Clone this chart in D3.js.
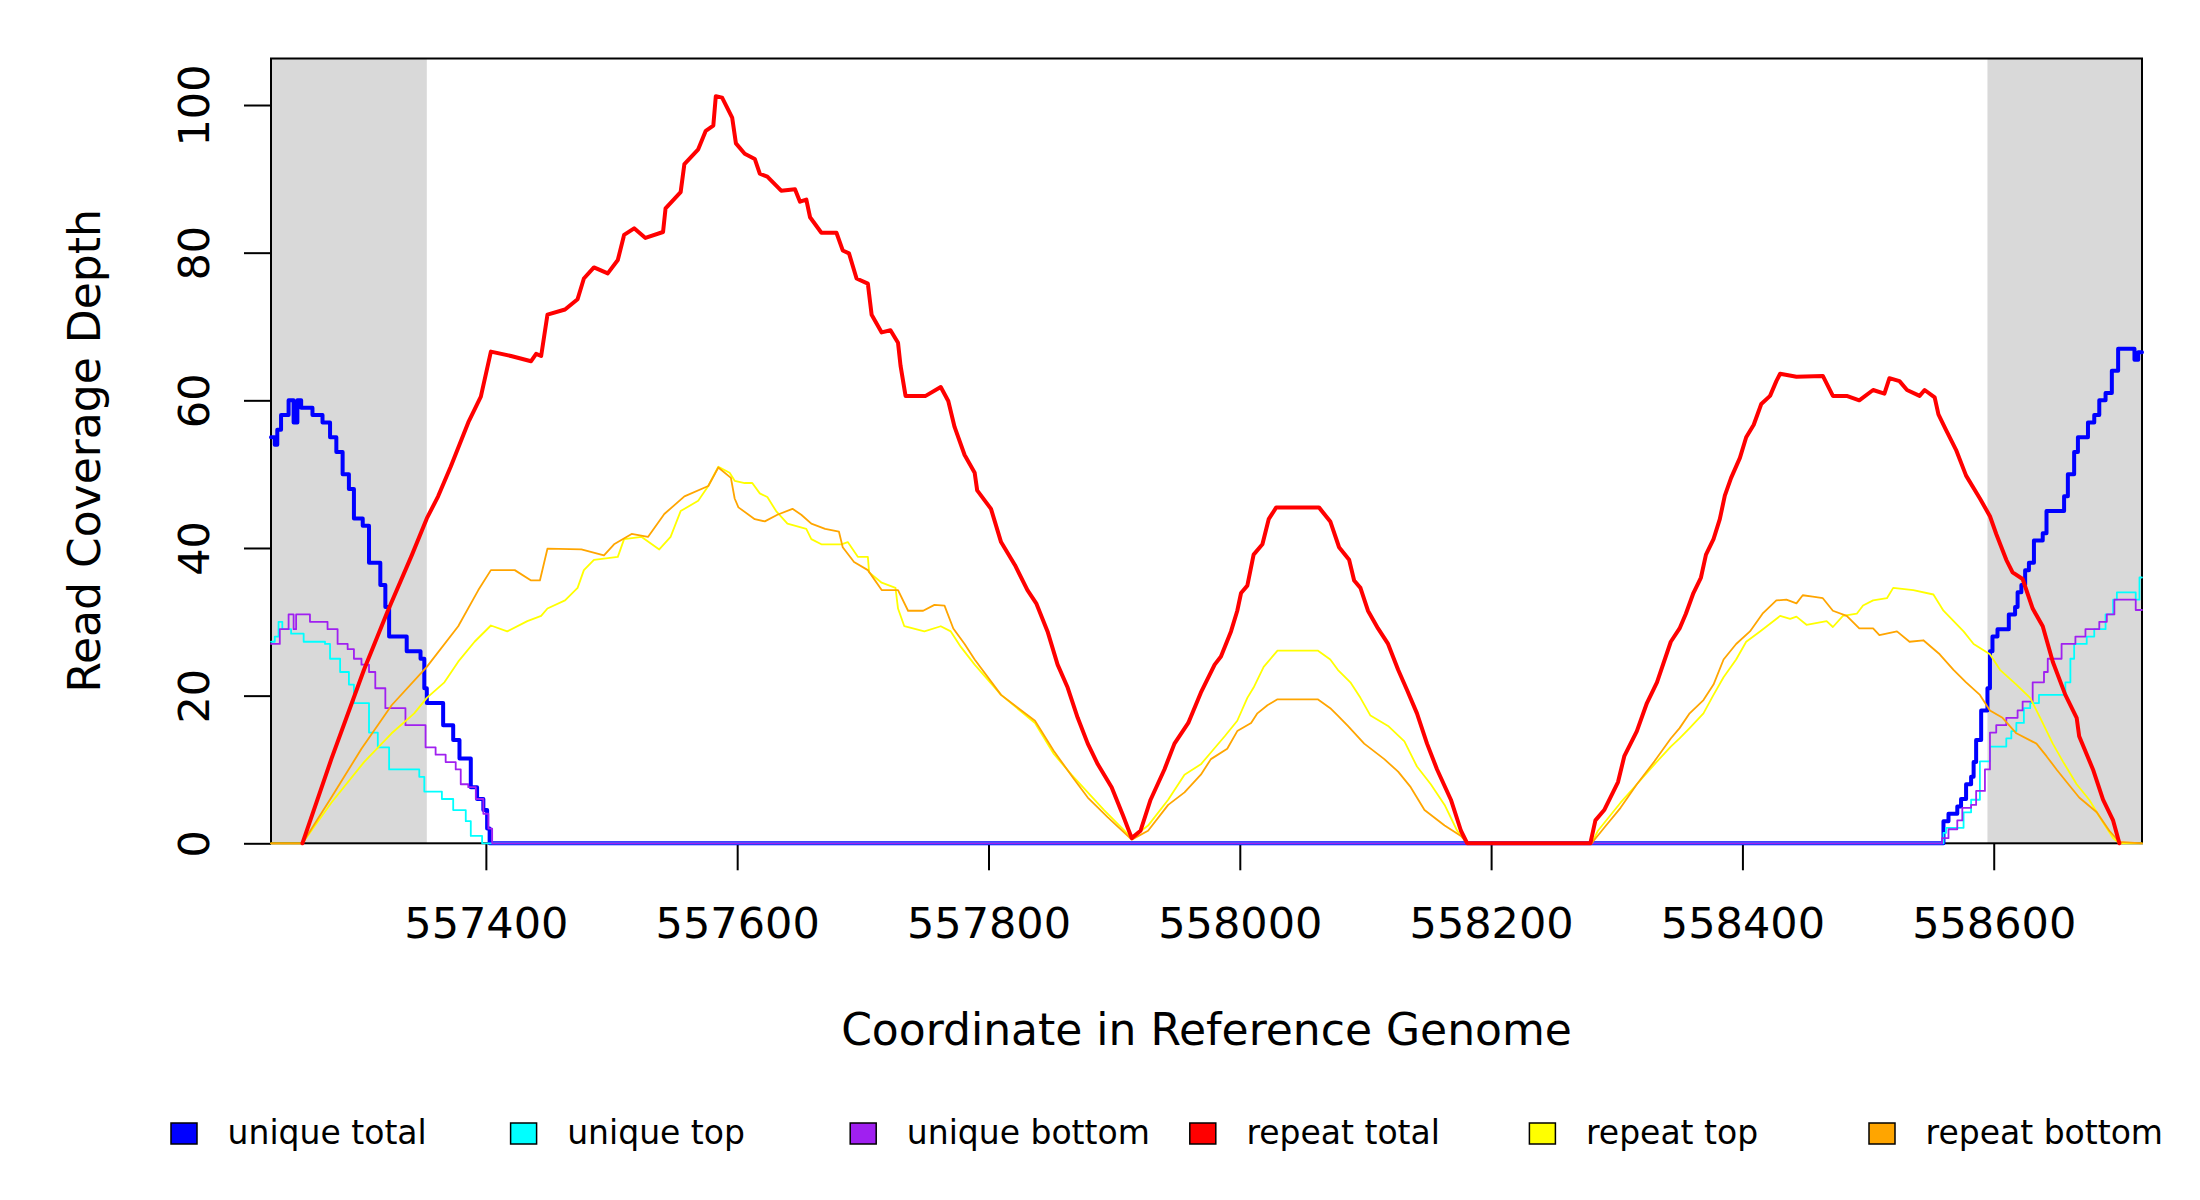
<!DOCTYPE html>
<html>
<head>
  <meta charset="utf-8">
  <title>Read Coverage Depth</title>
  <style>
    html, body {
      margin: 0;
      padding: 0;
      background: #fff;
    }
    svg text {
      font-family: "DejaVu Sans", sans-serif;
      fill: #000;
    }
  </style>
</head>
<body>
  <div id="chart"></div>

  <script src="https://d3js.org/d3.v7.min.js"></script>
  <script>
    // ---- data: [coordinate, depth] ----
    const uniqueTotal = [
      [557229,55],[557232,54],[557234,56],[557237,58],[557243,60],[557247,57],[557250,60],[557253,59],
      [557262,58],[557270,57],[557276,55],[557281,53],[557286,50],[557291,48],[557295,44],[557302,43],
      [557307,38],[557314,38],[557316,35],[557320,32],[557323,28],[557335,28],[557337,26],[557348,25],
      [557351,21],[557353,19],[557366,16],[557374,14],[557379,11.5],[557388,7.6],[557393,6],[557398,4.5],
      [557401,2],[557403,0],[558557,0],[558560,3],[558564,4],[558571,5],[558574,6],[558578,8],[558582,9],
      [558584,11],[558586,14],[558590,18],[558595,21],[558597,26],[558599,28],[558603,29],[558612,31],
      [558617,32],[558619,34],[558622,35],[558625,37],[558628,38],[558632,41],[558639,42],[558642,45],
      [558656,47],[558659,50],[558664,53],[558667,55],[558675,57],[558680,58],[558684,60],[558689,61],
      [558694,64],[558699,67],[558712,65.5],[558715,66.5],[558718,66.5]
    ];
    const uniqueTop = [
      [557229,27.3],[557232,28],[557235,30],[557238,29],[557245,28.4],[557255,27.3],[557272,27],[557276,25],
      [557284,23.2],[557291,21.5],[557295,19],[557307,15],[557314,13],[557323,10],[557347,9],[557351,7],
      [557365,6],[557374,4.5],[557384,3],[557388,1],[557397,0],[558558,0],[558560,1.4],[558562,2.1],
      [558576,4.2],[558582,5.9],[558589,11.1],[558597,13.1],[558610,14.2],[558614,15.2],[558618,16.3],
      [558624,18.3],[558629,19],[558636,20.1],[558657,21.8],[558661,25],[558664,27],[558674,28],
      [558680,29],[558689,31],[558695,33],[558698,34],[558713,33],[558716,36],[558718,36]
    ];
    const uniqueBottom = [
      [557229,27],[557236,29],[557243,31],[557247,29],[557249,31],[557260,30],[557274,29],[557282,27],
      [557290,26.3],[557295,25],[557301,24.2],[557307,23.2],[557312,21],[557320,18.3],[557336,16],
      [557352,13],[557360,12],[557368,11],[557376,10],[557380,8],[557386,7.6],[557392,6],[557398,4],
      [557402,2],[557405,0],[558558,0],[558559,0.7],[558564,1.9],[558571,3.1],[558575,4.8],[558582,5.2],
      [558586,7.1],[558593,10],[558597,15],[558602,16],[558610,17],[558619,18],[558623,19.2],[558631,21.8],
      [558640,23.2],[558643,25],[558654,27],[558665,28],[558673,29],[558684,30],[558690,31],[558696,33],
      [558713,31.6],[558718,31.6]
    ];
    const repeatTotal = [
      [557254,0],[557277,11.4],[557303,23.5],[557322,31.5],[557341,39],[557353,44],[557362,47],[557372,51],
      [557386,57],[557396,60.5],[557404,66.6],[557420,66],[557436,65.3],[557440,66.3],[557444,66],
      [557449,71.6],[557463,72.3],[557473,73.7],[557478,76.5],[557486,78],[557497,77.2],[557505,79],
      [557510,82.4],[557518,83.3],[557527,82],[557541,82.8],[557543,86],[557555,88.2],[557558,92],
      [557569,94],[557575,96.5],[557581,97.2],[557583,101.2],[557588,101],[557596,98.3],[557599,94.8],
      [557606,93.4],[557614,92.7],[557618,90.7],[557624,90.3],[557635,88.4],[557646,88.6],[557650,86.9],
      [557655,87.2],[557658,84.8],[557667,82.7],[557679,82.7],[557684,80.3],[557689,79.9],[557695,76.5],
      [557704,75.8],[557707,71.6],[557715,69.2],[557722,69.5],[557728,67.8],[557730,64.7],[557734,60.6],
      [557750,60.6],[557762,61.8],[557768,59.9],[557773,56.4],[557781,52.6],[557789,50.2],[557791,47.8],
      [557802,45.3],[557810,40.8],[557821,37.7],[557831,34.3],[557838,32.5],[557847,28.7],[557855,24.2],
      [557863,21.1],[557871,17],[557879,13.5],[557887,10.7],[557898,7.6],[557907,3.8],[557914,0.7],
      [557921,1.7],[557929,5.9],[557940,10],[557948,13.5],[557959,16.3],[557969,20.4],[557980,24.2],
      [557985,25.3],[557993,28.7],[557998,31.5],[558001,33.9],[558006,34.9],[558011,39.1],[558018,40.5],
      [558023,43.9],[558029,45.5],[558063,45.5],[558072,43.6],[558079,40.1],[558087,38.4],[558091,35.6],
      [558096,34.6],[558102,31.5],[558110,29.1],[558118,27],[558126,23.5],[558133,20.8],[558141,17.6],
      [558149,13.5],[558157,10],[558168,5.9],[558176,1.7],[558181,0],[558279,0],[558283,3.1],[558290,4.5],
      [558301,8.3],[558306,11.8],[558316,15.2],[558324,19],[558332,21.8],[558343,27.3],[558350,29.1],
      [558355,31.1],[558361,33.9],[558367,36],[558371,39.1],[558377,41.2],[558382,43.9],[558386,47.1],
      [558391,49.5],[558398,52.2],[558403,55],[558409,56.7],[558415,59.5],[558422,60.6],[558427,62.6],
      [558430,63.6],[558443,63.2],[558464,63.3],[558472,60.6],[558483,60.6],[558493,60],[558504,61.4],
      [558513,60.9],[558517,63],[558525,62.6],[558531,61.4],[558541,60.6],[558545,61.4],[558553,60.4],
      [558556,58.1],[558562,56],[558570,53.3],[558578,49.8],[558589,46.7],[558597,44.3],[558602,41.9],
      [558610,38.4],[558615,36.7],[558623,35.8],[558631,31.8],[558639,29.4],[558647,24.6],[558657,20.1],
      [558666,17],[558668,14.5],[558679,10],[558687,5.9],[558695,3.1],[558700,0]
    ];
    const repeatTop = [
      [557229,0],[557254,0],[557277,5.5],[557303,11],[557325,14.9],[557343,17.6],[557353,19.7],[557367,21.8],
      [557378,24.6],[557391,27.3],[557404,29.5],[557417,28.7],[557433,30.1],[557444,30.8],[557449,31.8],
      [557463,32.9],[557473,34.6],[557478,37],[557486,38.4],[557505,38.8],[557510,41.2],[557524,41.5],
      [557538,39.8],[557547,41.5],[557555,45],[557569,46.4],[557577,48.4],[557585,51],[557594,50.2],
      [557598,49.1],[557606,48.8],[557612,48.8],[557618,47.4],[557624,46.9],[557631,45],[557640,43.3],
      [557655,42.6],[557659,41.2],[557667,40.5],[557683,40.5],[557688,40.8],[557696,38.8],[557704,38.8],
      [557705,36.7],[557715,35.3],[557726,34.6],[557728,31.8],[557733,29.4],[557749,28.7],[557762,29.4],
      [557770,28.7],[557778,26.6],[557789,24.2],[557810,20.1],[557837,16.3],[557852,12.1],[557866,9.3],
      [557879,6.9],[557892,4.5],[557906,2.1],[557914,0.7],[557927,2.4],[557943,5.9],[557956,9.3],
      [557969,10.7],[557978,12.5],[557988,14.5],[557998,16.6],[558006,19.7],[558011,21.1],[558019,23.9],
      [558030,26.1],[558062,26.1],[558072,24.9],[558078,23.5],[558088,21.8],[558096,19.7],[558104,17.3],
      [558118,15.9],[558131,13.8],[558141,10.4],[558152,8],[558163,5.2],[558173,1.7],[558181,0],
      [558280,0],[558285,1.7],[558303,5.5],[558316,8],[558330,10.7],[558343,13.1],[558350,14.2],
      [558358,15.6],[558369,17.6],[558377,20.1],[558385,22.5],[558395,24.9],[558403,27.3],[558414,28.7],
      [558430,30.8],[558438,30.4],[558443,30.7],[558451,29.6],[558467,30.1],[558472,29.3],[558480,30.8],
      [558491,31.1],[558496,32.2],[558504,32.9],[558515,33.2],[558520,34.6],[558536,34.3],[558552,33.7],
      [558560,31.5],[558576,28.7],[558584,27],[558597,25.6],[558605,23.5],[558618,21.5],[558629,19.7],
      [558637,17],[558647,13.5],[558655,11.1],[558666,8],[558676,5.9],[558686,3.1],[558695,0.7],
      [558700,0],[558718,0]
    ];
    const repeatBottom = [
      [557229,0],[557254,0],[557277,6.2],[557301,12.8],[557325,18.7],[557353,23.9],[557378,29.4],
      [557394,34.3],[557404,37],[557423,37],[557436,35.6],[557443,35.6],[557449,39.9],[557476,39.8],
      [557494,39],[557502,40.5],[557516,41.9],[557529,41.5],[557542,44.6],[557558,47],[557577,48.4],
      [557585,50.9],[557595,49.5],[557598,46.7],[557601,45.5],[557614,43.9],[557622,43.6],[557632,44.5],
      [557644,45.3],[557651,44.5],[557659,43.3],[557670,42.6],[557681,42.2],[557684,40.1],[557693,38.1],
      [557704,37],[557715,34.3],[557728,34.3],[557736,31.5],[557748,31.5],[557757,32.3],[557765,32.2],
      [557772,29.1],[557781,27],[557789,24.9],[557810,20.1],[557837,16.6],[557852,12.5],[557868,8.7],
      [557879,6.2],[557895,3.5],[557914,0.5],[557927,1.7],[557943,5.2],[557956,6.9],[557969,9.3],
      [557977,11.4],[557990,12.8],[557998,15.2],[558009,16.3],[558014,17.6],[558022,18.7],[558030,19.5],
      [558062,19.5],[558072,18.3],[558078,17.3],[558086,15.9],[558099,13.5],[558115,11.4],[558126,9.7],
      [558136,7.6],[558147,4.5],[558163,2.4],[558176,1],[558181,0],[558280,0],[558290,2.1],[558303,4.8],
      [558316,8],[558330,11.1],[558343,14.2],[558350,15.6],[558358,17.6],[558369,19.4],[558377,21.5],
      [558385,24.9],[558395,27],[558406,28.7],[558416,31.1],[558427,32.9],[558435,33],[558443,32.5],
      [558448,33.6],[558456,33.4],[558464,33.2],[558472,31.5],[558483,30.8],[558493,29.1],[558504,29.1],
      [558509,28.2],[558523,28.7],[558533,27.3],[558544,27.5],[558557,25.6],[558568,23.5],[558578,21.8],
      [558589,20.1],[558597,18],[558607,17],[558618,14.9],[558634,13.5],[558642,11.8],[558650,10],
      [558658,8.3],[558668,6.2],[558682,4.2],[558692,1.7],[558700,0.2],[558718,0]
    ];

    // flanking (shaded) regions and axis ticks
    const flankRegions = [[557229, 557353], [558595, 558718]];
    const xTicks = [557400, 557600, 557800, 558000, 558200, 558400, 558600];
    const yTicks = [0, 20, 40, 60, 80, 100];
    const xDomain = [557229, 558718];
    const yDomain = [0, 106.3];

    // series in drawing order
    const series = [
      {name: "unique total",  data: uniqueTotal,  color: "#0000ff", width: 4,   step: true},
      {name: "unique top",    data: uniqueTop,    color: "#00ffff", width: 1.8, step: true},
      {name: "unique bottom", data: uniqueBottom, color: "#a020f0", width: 1.8, step: true},
      {name: "repeat top",    data: repeatTop,    color: "#ffff00", width: 1.8, step: false},
      {name: "repeat bottom", data: repeatBottom, color: "#ffa500", width: 1.8, step: false},
      {name: "repeat total",  data: repeatTotal,  color: "#ff0000", width: 4,   step: false}
    ];
    const legendOrder = ["unique total", "unique top", "unique bottom", "repeat total", "repeat top", "repeat bottom"];

    // ---- layout ----
    const W = 2200, H = 1200;
    const plot = {left: 271, right: 2142, top: 58.5, bottom: 843.3};

    const svg = d3.select("#chart").append("svg")
      .attr("width", W)
      .attr("height", H);

    svg.append("rect").attr("width", W).attr("height", H).attr("fill", "#fff");

    const x = d3.scaleLinear().domain(xDomain).range([plot.left, plot.right]);
    const y = d3.scaleLinear().domain(yDomain).range([plot.bottom, plot.top]);

    // shaded flanks
    svg.selectAll("rect.flank")
      .data(flankRegions)
      .enter().append("rect")
      .attr("class", "flank")
      .attr("x", d => x(d[0]))
      .attr("y", plot.top)
      .attr("width", d => x(d[1]) - x(d[0]))
      .attr("height", plot.bottom - plot.top)
      .attr("fill", "#d9d9d9");

    // box
    svg.append("rect")
      .attr("x", plot.left)
      .attr("y", plot.top)
      .attr("width", plot.right - plot.left)
      .attr("height", plot.bottom - plot.top)
      .attr("fill", "none")
      .attr("stroke", "#000")
      .attr("stroke-width", 2);

    // x axis
    const xAxis = svg.append("g")
      .attr("transform", `translate(0,${plot.bottom})`)
      .call(d3.axisBottom(x).tickValues(xTicks).tickSize(27).tickFormat(d3.format("d")));
    xAxis.select(".domain").remove();
    xAxis.selectAll(".tick line").attr("stroke", "#000").attr("stroke-width", 2);
    xAxis.selectAll(".tick text")
      .attr("y", 95)
      .attr("dy", null)
      .style("font-size", "43px")
      .style("font-family", "'DejaVu Sans', sans-serif")
      .attr("fill", "#000");

    // y axis with labels parallel to the axis
    const yAxis = svg.append("g")
      .attr("transform", `translate(${plot.left},0)`)
      .call(d3.axisLeft(y).tickValues(yTicks).tickSize(27));
    yAxis.select(".domain").remove();
    yAxis.selectAll(".tick line").attr("stroke", "#000").attr("stroke-width", 2);
    yAxis.selectAll(".tick text")
      .attr("x", null)
      .attr("dy", null)
      .attr("text-anchor", "middle")
      .attr("transform", "translate(-62,0) rotate(-90)")
      .style("font-size", "43px")
      .style("font-family", "'DejaVu Sans', sans-serif")
      .attr("fill", "#000");

    // axis titles
    svg.append("text")
      .attr("x", (plot.left + plot.right) / 2)
      .attr("y", 1045)
      .attr("text-anchor", "middle")
      .style("font-size", "44px")
      .text("Coordinate in Reference Genome");

    svg.append("text")
      .attr("transform", `translate(100,${(plot.top + plot.bottom) / 2}) rotate(-90)`)
      .attr("text-anchor", "middle")
      .style("font-size", "44px")
      .text("Read Coverage Depth");

    // coverage lines
    series.forEach(s => {
      const line = d3.line()
        .x(d => x(d[0]))
        .y(d => y(d[1]))
        .curve(s.step ? d3.curveStepAfter : d3.curveLinear);
      svg.append("path")
        .datum(s.data)
        .attr("fill", "none")
        .attr("stroke", s.color)
        .attr("stroke-width", s.width)
        .attr("stroke-linejoin", "round")
        .attr("stroke-linecap", "round")
        .attr("d", line);
    });

    // legend along the bottom
    const legend = svg.append("g");
    const byName = new Map(series.map(s => [s.name, s]));
    legendOrder.forEach((name, i) => {
      const gx = 171 + i * 339.6;
      legend.append("rect")
        .attr("x", gx)
        .attr("y", 1123)
        .attr("width", 26)
        .attr("height", 21)
        .attr("fill", byName.get(name).color)
        .attr("stroke", "#000")
        .attr("stroke-width", 1.5);
      legend.append("text")
        .attr("x", gx + 56.6)
        .attr("y", 1144)
        .style("font-size", "33px")
        .text(name);
    });
  </script>
</body>
</html>
